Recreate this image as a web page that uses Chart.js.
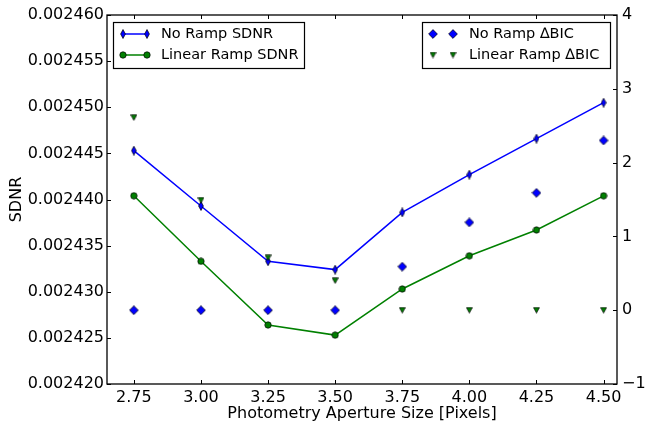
<!DOCTYPE html>
<html>
<head>
<meta charset="utf-8">
<script src="https://cdn.jsdelivr.net/npm/chart.js@4/dist/chart.umd.min.js"></script>
<style>
  html, body { margin: 0; padding: 0; background: #fff; }
  #wrap { width: 645px; height: 423px; }
</style>
</head>
<body>
<div id="wrap"><canvas id="chart" width="645" height="423"></canvas></div>
<script>
const apertures = [2.75, 3.00, 3.25, 3.50, 3.75, 4.00, 4.25, 4.50];
const noRampSdnr = [0.0024453, 0.0024393, 0.0024333, 0.0024324, 0.0024386, 0.0024427, 0.0024466, 0.0024505];
const linRampSdnr = [0.0024404, 0.0024333, 0.0024264, 0.0024253, 0.0024303, 0.0024339, 0.0024367, 0.0024404];
const noRampBic = [0, 0, 0, 0, 0.59, 1.19, 1.59, 2.30];
const linRampBic = [2.61, 1.49, 0.71, 0.40, 0, 0, 0, 0];

const xTicks = [2.75, 3.00, 3.25, 3.50, 3.75, 4.00, 4.25, 4.50];
const sdnrTicks = [0.00242, 0.002425, 0.00243, 0.002435, 0.00244, 0.002445, 0.00245, 0.002455, 0.00246];
const bicTicks = [-1, 0, 1, 2, 3, 4];

const BLUE = "#0000ff";
const GREEN = "#008000";
const FONT = "'DejaVu Sans', sans-serif";

function makeMarker(w, h, pts, fill) {
  const c = document.createElement("canvas");
  c.width = w; c.height = h;
  const g = c.getContext("2d");
  g.beginPath();
  if (pts === "circle") {
    g.arc(w / 2, h / 2, w / 2 - 0.8, 0, Math.PI * 2);
  } else {
    g.moveTo(pts[0][0], pts[0][1]);
    pts.slice(1).forEach(p => g.lineTo(p[0], p[1]));
    g.closePath();
  }
  g.fillStyle = fill;
  g.fill();
  g.lineWidth = 0.7;
  g.strokeStyle = "#000";
  g.stroke();
  return c;
}

const thinDiamond = makeMarker(6, 10, [[3, 0.5], [5.4, 5], [3, 9.5], [0.6, 5]], BLUE);
const dotMarker = makeMarker(8, 8, "circle", GREEN);
const diamondMarker = makeMarker(10, 10, [[5, 0.6], [9.4, 5], [5, 9.4], [0.6, 5]], BLUE);
const triMarker = makeMarker(7, 7, [[0.5, 0.8], [6.5, 0.8], [3.5, 6.3]], GREEN);

function pairs(ys) {
  return apertures.map((x, i) => ({ x: x, y: ys[i] }));
}

// frame, inward ticks and the two legend boxes
const framePlugin = {
  id: "frame",
  afterDraw(chart) {
    const ctx = chart.ctx;
    const a = chart.chartArea;
    const sx = chart.scales.x, sy = chart.scales.y, sy2 = chart.scales.y2;
    ctx.save();
    ctx.strokeStyle = "#000";
    ctx.lineWidth = 1.3;
    ctx.strokeRect(a.left, a.top, a.right - a.left, a.bottom - a.top);
    ctx.lineWidth = 1;
    ctx.beginPath();
    xTicks.forEach(v => {
      const px = Math.round(sx.getPixelForValue(v)) + 0.5;
      ctx.moveTo(px, a.bottom); ctx.lineTo(px, a.bottom - 4);
      ctx.moveTo(px, a.top); ctx.lineTo(px, a.top + 4);
    });
    sdnrTicks.forEach(v => {
      const py = Math.round(sy.getPixelForValue(v)) + 0.5;
      ctx.moveTo(a.left, py); ctx.lineTo(a.left + 4, py);
    });
    bicTicks.forEach(v => {
      const py = Math.round(sy2.getPixelForValue(v)) + 0.5;
      ctx.moveTo(a.right, py); ctx.lineTo(a.right - 4, py);
    });
    ctx.stroke();

    ctx.font = "14.5px " + FONT;
    ctx.textBaseline = "middle";
    ctx.fillStyle = "#000";

    // left legend
    ctx.fillStyle = "#fff";
    ctx.fillRect(113.5, 22.5, 191, 46);
    ctx.lineWidth = 1.2;
    ctx.strokeRect(113.5, 22.5, 191, 46);
    const rows = [34, 55];
    ctx.lineWidth = 1.5;
    ctx.strokeStyle = BLUE;
    ctx.beginPath(); ctx.moveTo(123, rows[0]); ctx.lineTo(147, rows[0]); ctx.stroke();
    ctx.strokeStyle = GREEN;
    ctx.beginPath(); ctx.moveTo(123, rows[1]); ctx.lineTo(147, rows[1]); ctx.stroke();
    [123, 147].forEach(x => {
      ctx.drawImage(thinDiamond, x - 3, rows[0] - 5);
      ctx.drawImage(dotMarker, x - 4, rows[1] - 4);
    });
    ctx.fillStyle = "#000";
    ctx.fillText("No Ramp SDNR", 161, rows[0]);
    ctx.fillText("Linear Ramp SDNR", 161, rows[1]);

    // right legend
    ctx.fillStyle = "#fff";
    ctx.fillRect(422.5, 22.5, 188, 46);
    ctx.strokeStyle = "#000";
    ctx.lineWidth = 1.2;
    ctx.strokeRect(422.5, 22.5, 188, 46);
    [433, 453].forEach(x => {
      ctx.drawImage(diamondMarker, x - 5, rows[0] - 5);
      ctx.drawImage(triMarker, x - 3.5, rows[1] - 3.5);
    });
    ctx.fillStyle = "#000";
    ctx.fillText("No Ramp \u2206BIC", 469, rows[0]);
    ctx.fillText("Linear Ramp \u2206BIC", 469, rows[1]);
    ctx.restore();
  }
};

new Chart(document.getElementById("chart"), {
  type: "scatter",
  data: {
    datasets: [
      {
        label: "Linear Ramp \u2206BIC",
        data: pairs(linRampBic),
        yAxisID: "y2",
        pointStyle: triMarker,
        showLine: false,
        order: 1
      },
      {
        label: "No Ramp \u2206BIC",
        data: pairs(noRampBic),
        yAxisID: "y2",
        pointStyle: diamondMarker,
        showLine: false,
        order: 2
      },
      {
        label: "No Ramp SDNR",
        data: pairs(noRampSdnr),
        yAxisID: "y",
        showLine: true,
        borderColor: BLUE,
        borderWidth: 1.5,
        pointStyle: thinDiamond,
        order: 3
      },
      {
        label: "Linear Ramp SDNR",
        data: pairs(linRampSdnr),
        yAxisID: "y",
        showLine: true,
        borderColor: GREEN,
        borderWidth: 1.5,
        pointStyle: dotMarker,
        order: 4
      }
    ]
  },
  options: {
    responsive: false,
    animation: false,
    layout: { padding: { top: 15, left: 0, right: 0, bottom: 0 } },
    plugins: {
      legend: { display: false },
      tooltip: { enabled: false }
    },
    scales: {
      x: {
        type: "linear",
        min: 2.65,
        max: 4.55,
        afterBuildTicks: axis => { axis.ticks = xTicks.map(v => ({ value: v })); },
        afterFit: axis => { axis.height = 39; },
        grid: { display: false, drawTicks: false },
        border: { display: false },
        ticks: {
          padding: 4,
          color: "#000",
          font: { family: FONT, size: 16 },
          maxRotation: 0,
          callback: v => Number(v).toFixed(2)
        },
        title: {
          display: true,
          text: "Photometry Aperture Size [Pixels]",
          color: "#000",
          font: { family: FONT, size: 16 },
          padding: { top: 0, bottom: 0 }
        }
      },
      y: {
        position: "left",
        min: 0.00242,
        max: 0.00246,
        afterBuildTicks: axis => { axis.ticks = sdnrTicks.map(v => ({ value: v })); },
        afterFit: axis => { axis.width = 107; },
        grid: { display: false, drawTicks: false },
        border: { display: false },
        ticks: {
          padding: 3,
          color: "#000",
          font: { family: FONT, size: 16 },
          callback: v => Number(v).toFixed(6)
        },
        title: {
          display: true,
          text: "SDNR",
          color: "#000",
          font: { family: FONT, size: 16 },
          padding: { top: 7, bottom: 0 }
        }
      },
      y2: {
        position: "right",
        min: -1,
        max: 4,
        afterBuildTicks: axis => { axis.ticks = bicTicks.map(v => ({ value: v })); },
        afterFit: axis => { axis.width = 28; },
        grid: { display: false, drawTicks: false },
        border: { display: false },
        ticks: {
          padding: 5,
          color: "#000",
          font: { family: FONT, size: 16 },
          callback: v => (v < 0 ? "\u2212" + Math.abs(v) : String(v))
        }
      }
    }
  },
  plugins: [framePlugin]
});
</script>
</body>
</html>
